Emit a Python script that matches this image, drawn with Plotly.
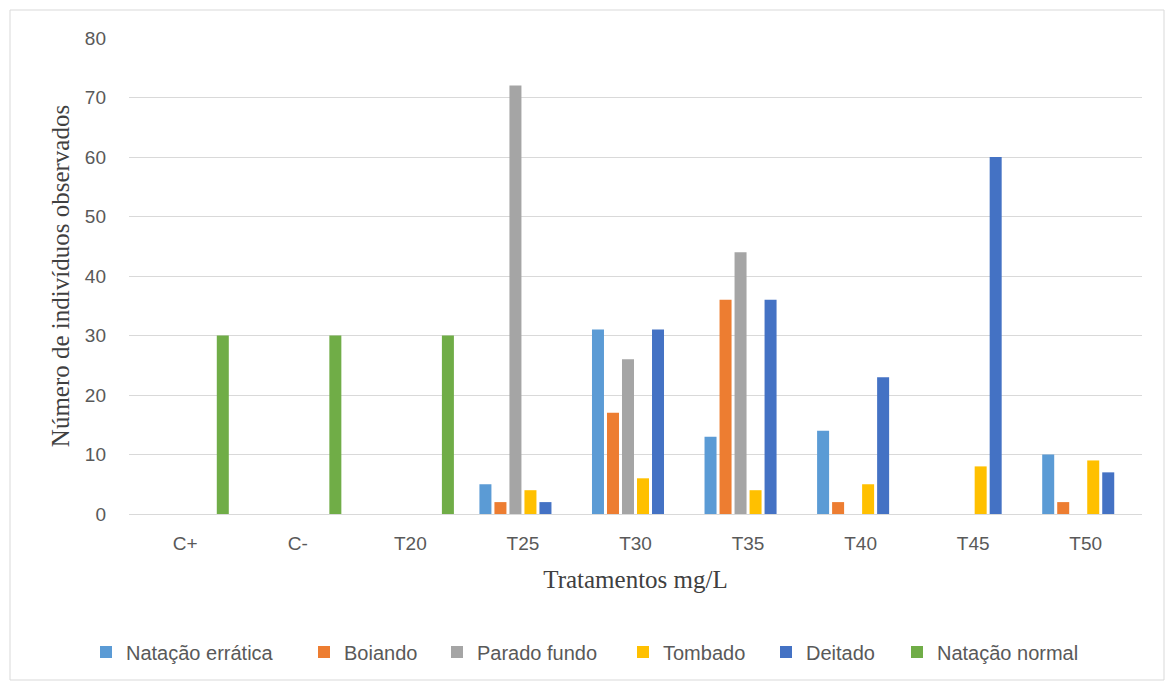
import plotly.graph_objects as go

# Treatments on the x axis
categories = ["C+", "C-", "T20", "T25", "T30", "T35", "T40", "T45", "T50"]

# Counts of individuals observed per behaviour
natacao_erratica = [0, 0, 0, 5, 31, 13, 14, 0, 10]
boiando = [0, 0, 0, 2, 17, 36, 2, 0, 2]
parado_fundo = [0, 0, 0, 72, 26, 44, 0, 0, 0]
tombado = [0, 0, 0, 4, 6, 4, 5, 8, 9]
deitado = [0, 0, 0, 2, 31, 36, 23, 60, 7]
natacao_normal = [30, 30, 30, 0, 0, 0, 0, 0, 0]

series = [
    ("Natação errática", natacao_erratica, "#5B9BD5"),
    ("Boiando", boiando, "#ED7D31"),
    ("Parado fundo", parado_fundo, "#A5A5A5"),
    ("Tombado", tombado, "#FFC000"),
    ("Deitado", deitado, "#4472C4"),
    ("Natação normal", natacao_normal, "#70AD47"),
]

W, H = 1168, 684
ml, mr, mt, mb = 129, 26, 38, 170
pw, ph = W - ml - mr, H - mt - mb

# pixel x of each legend swatch centre, one legend box per series
legend_px = [106, 324, 457, 643, 786, 917]
legend_y_px = 652

fig = go.Figure()
legend_layout = {}
for i, (name, vals, color) in enumerate(series):
    key = "legend" if i == 0 else f"legend{i + 1}"
    fig.add_trace(go.Bar(
        x=categories, y=vals, name=name, legend=key, showlegend=True,
        marker=dict(color=color, line=dict(width=0)),
    ))
    legend_layout[key] = dict(
        orientation="h",
        x=(legend_px[i] - 20 - ml) / pw, xanchor="left",
        y=(H - mb - legend_y_px) / ph, yanchor="middle",
        font=dict(family="Liberation Sans, Arial, sans-serif", size=20, color="#595959"),
        itemwidth=30, bgcolor="rgba(0,0,0,0)", borderwidth=0,
    )

fig.update_layout(
    width=W, height=H,
    margin=dict(l=ml, r=mr, t=mt, b=mb),
    showlegend=True,
    barmode="group", bargap=0.2, bargroupgap=0.2,
    plot_bgcolor="white", paper_bgcolor="white",
    font=dict(family="Liberation Sans, Arial, sans-serif", size=19, color="#595959"),
    xaxis=dict(
        showgrid=False, showline=False, zeroline=False,
        ticks="", ticklabelstandoff=16,
        tickfont=dict(size=19, color="#595959"),
        title=dict(text="Tratamentos mg/L", standoff=17,
                   font=dict(family="Liberation Serif, Times New Roman, serif", size=25, color="#404040")),
    ),
    yaxis=dict(
        range=[0, 80], dtick=10, tick0=0,
        showgrid=True, gridcolor="#D9D9D9", gridwidth=1,
        zeroline=True, zerolinecolor="#D9D9D9", zerolinewidth=1,
        showline=False, ticks="", ticklabelstandoff=22,
        tickfont=dict(size=19, color="#595959"),
        title=dict(text="Número de indivíduos observados", standoff=8,
                   font=dict(family="Liberation Serif, Times New Roman, serif", size=25, color="#404040")),
    ),
    shapes=[dict(
        type="rect", xref="paper", yref="paper",
        x0=(10 - ml) / pw, x1=(W - 4 - ml) / pw,
        y0=(H - mb - (H - 4)) / ph, y1=(H - mb - 10) / ph,
        line=dict(color="#D9D9D9", width=1), fillcolor="rgba(0,0,0,0)",
        layer="below",
    )],
    **legend_layout,
)

fig.write_html("out.html")
